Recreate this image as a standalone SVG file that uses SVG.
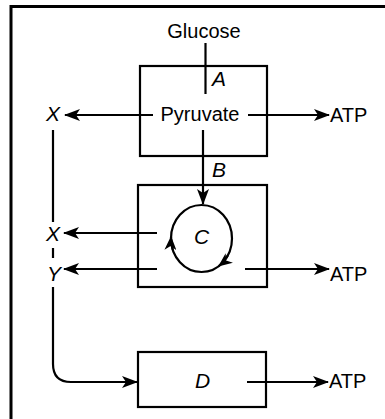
<svg xmlns="http://www.w3.org/2000/svg" width="385" height="419" viewBox="0 0 385 419">
<defs>
<style>
.box{fill:none;stroke:#000;stroke-width:2.2}
.ln{fill:none;stroke:#000;stroke-width:2.2}
.t{font-family:"Liberation Sans",Arial,sans-serif;font-size:20px;fill:#000}
.i{font-style:italic;font-size:21px}
</style>
<marker id="ah" viewBox="0 0 16 12" refX="15" refY="6" markerWidth="16" markerHeight="12" markerUnits="userSpaceOnUse" orient="auto">
<path d="M0,0 L16,6 L0,12 L4,6 Z" fill="#000"/>
</marker>
<marker id="ahs" viewBox="0 0 14 12" refX="13" refY="6" markerWidth="14" markerHeight="12" markerUnits="userSpaceOnUse" orient="auto">
<path d="M0,0 L14,6 L0,12 L4,6 Z" fill="#000"/>
</marker>
</defs>
<rect width="385" height="419" fill="#fff"/>
<path d="M11,419 V6.5 H385" fill="none" stroke="#000" stroke-width="3"/>

<g id="glucose"><text class="t" x="204" y="38" text-anchor="middle">Glucose</text></g>

<g id="boxA">
<rect class="box" x="140" y="66" width="127" height="90"/>
<text class="t i" x="212" y="86">A</text>
<text class="t" x="200" y="121" text-anchor="middle">Pyruvate</text>
</g>

<g id="boxC">
<rect class="box" x="138" y="185" width="129" height="102"/>
<ellipse class="ln" cx="201.5" cy="238.5" rx="30.5" ry="33.5"/>
<text class="t i" x="194" y="244">C</text>
</g>

<g id="boxD">
<rect class="box" x="138" y="352" width="128" height="55"/>
<text class="t i" x="195" y="388">D</text>
</g>

<g id="labels">
<text class="t i" x="46" y="121">X</text>
<text class="t i" x="46" y="241">X</text>
<text class="t i" x="47" y="281">Y</text>
<text class="t i" x="212" y="177">B</text>
<text class="t" x="330" y="122">ATP</text>
<text class="t" x="330" y="281">ATP</text>
<text class="t" x="329" y="388">ATP</text>
</g>

<g id="connectors">
<line class="ln" x1="205.5" y1="43" x2="205.5" y2="94"/>
<line class="ln" x1="153" y1="115" x2="65" y2="115" marker-end="url(#ah)"/>
<line class="ln" x1="248" y1="115" x2="329" y2="115" marker-end="url(#ah)"/>
<line class="ln" x1="203" y1="130" x2="203" y2="204" marker-end="url(#ah)"/>
<line class="ln" x1="157" y1="233" x2="64" y2="233" marker-end="url(#ah)"/>
<line class="ln" x1="157" y1="269" x2="64" y2="269" marker-end="url(#ah)"/>
<line class="ln" x1="245" y1="269" x2="329" y2="269" marker-end="url(#ah)"/>
<line class="ln" x1="247" y1="382" x2="328" y2="382" marker-end="url(#ah)"/>
<line class="ln" x1="53" y1="130" x2="53" y2="222"/>
<line class="ln" x1="53" y1="248" x2="53" y2="258"/>
<path class="ln" d="M53,287 V364 Q53,382 71,382 H137" marker-end="url(#ah)"/>
<path class="ln" d="M172.8,250 A30.5 33.5 0 0 1 171,237" marker-end="url(#ahs)"/>
<path class="ln" d="M227.9,255.3 A30.5 33.5 0 0 1 219,266" marker-end="url(#ahs)"/>
</g>
</svg>
